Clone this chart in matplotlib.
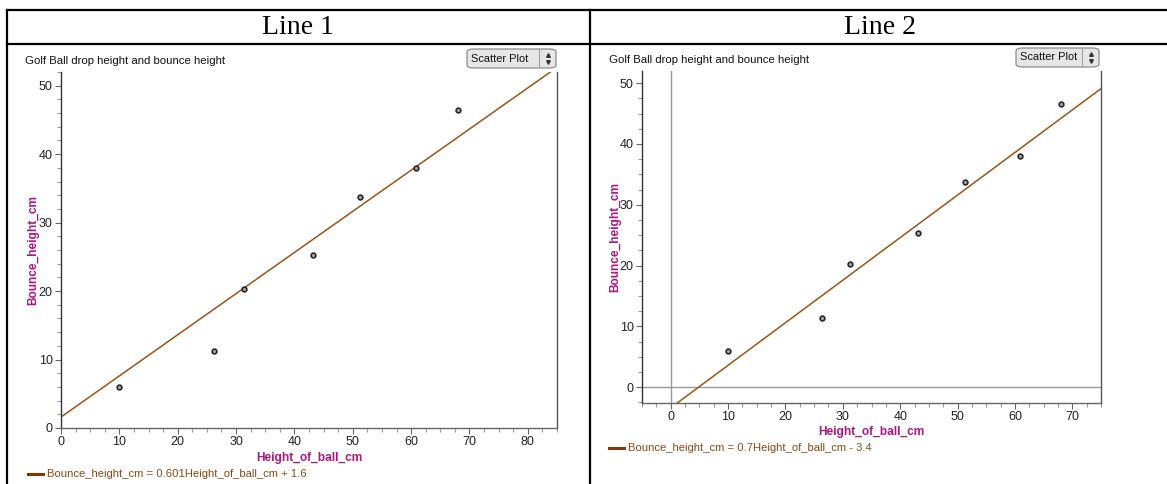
import numpy as np
import matplotlib
matplotlib.use("Agg")
import matplotlib.pyplot as plt
from matplotlib.patches import FancyBboxPatch
from matplotlib.lines import Line2D
from matplotlib.ticker import MultipleLocator

# dati
height_of_ball = [10.0, 26.3, 31.3, 43.1, 51.3, 60.9, 68.0]
bounce_height = [6.0, 11.3, 20.3, 25.3, 33.7, 38.0, 46.5]

headers = ["Line 1", "Line 2"]
slopes = [0.601, 0.7]
intercepts = [1.6, -3.4]
legend_texts = ["Bounce_height_cm = 0.601Height_of_ball_cm + 1.6",
                "Bounce_height_cm = 0.7Height_of_ball_cm - 3.4"]
title_text = "Golf Ball drop height and bounce height"
xlabel_text = "Height_of_ball_cm"
ylabel_text = "Bounce_height_cm"

W, H = 1167, 484
plt.rcParams['font.family'] = ['Liberation Sans', 'DejaVu Sans']

fig = plt.figure(figsize=(W / 100, H / 100), dpi=100)

def fx(px):
    return px / W

def fy(py):
    return 1 - py / H

def add_ax(x0, y0, x1, y1):
    return fig.add_axes([fx(x0), fy(y1), fx(x1 - x0), (y1 - y0) / H])

label_col = '#B0167E'
line_col = '#9A5518'
legend_col = '#8B4A14'

# cornice della tabella
border_kw = dict(color='black', lw=1.6, transform=fig.transFigure)
fig.add_artist(Line2D([fx(7), fx(1167)], [fy(10), fy(10)], **border_kw))
fig.add_artist(Line2D([fx(7), fx(1167)], [fy(44), fy(44)], **border_kw))
fig.add_artist(Line2D([fx(7), fx(7)], [fy(10), fy(484)], **border_kw))
fig.add_artist(Line2D([fx(590), fx(590)], [fy(10), fy(484)], **border_kw))
fig.text(fx(298), fy(28), headers[0], family='Liberation Serif', fontsize=20,
         ha='center', va='center')
fig.text(fx(880), fy(28), headers[1], family='Liberation Serif', fontsize=20,
         ha='center', va='center')

# pannelli: (limiti assi in px, xlim, ylim, passi minori, ecc.)
panels = [
    dict(box=(61, 72, 557, 428), xlim=(0, 85), ylim=(0, 52), yminor=2,
         title=(25, 61), ylab=33, xlab=458, leg=(28, 474), button=(467, 49, 556, 68),
         zero_lines=False),
    dict(box=(642, 71, 1101, 403), xlim=(-5, 75), ylim=(-2.6, 52), yminor=2.5,
         title=(609, 60), ylab=615, xlab=432, leg=(609, 448), button=(1016, 48, 1099, 67),
         zero_lines=True),
]

for i, p in enumerate(panels):
    x0, y0, x1, y1 = p['box']
    ax = add_ax(x0, y0, x1, y1)
    ax.set_xlim(*p['xlim'])
    ax.set_ylim(*p['ylim'])
    ax.patch.set_alpha(0)

    if p['zero_lines']:
        ax.axhline(0, color='#9a9a9a', lw=1, zorder=1)
        ax.axvline(0, color='#9a9a9a', lw=1, zorder=1)

    xs = np.linspace(p['xlim'][0], p['xlim'][1], 200)
    ax.plot(xs, slopes[i] * xs + intercepts[i], color=line_col, lw=1.1, zorder=2)
    ax.scatter(height_of_ball, bounce_height, s=12, facecolor='#a0a0a0',
               edgecolor='#222222', linewidth=1.1, zorder=3)

    ax.spines['top'].set_visible(False)
    ax.spines['left'].set_color('#333333')
    ax.spines['bottom'].set_color('#666666')
    ax.spines['right'].set_color('#555555')
    for s in ax.spines.values():
        s.set_linewidth(1.0)

    ax.xaxis.set_major_locator(MultipleLocator(10))
    ax.xaxis.set_minor_locator(MultipleLocator(2.5))
    ax.yaxis.set_major_locator(MultipleLocator(10))
    ax.yaxis.set_minor_locator(MultipleLocator(p['yminor']))
    ax.tick_params(which='major', length=4, width=0.8, color='#666666',
                   labelsize=9, labelcolor='#222222', pad=2)
    ax.tick_params(which='minor', length=3, width=0.8, color='#999999')

    # titolo, etichette assi
    fig.text(fx(p['title'][0]), fy(p['title'][1]), title_text, fontsize=8.2,
             ha='left', va='center', color='#111111')
    fig.text(fx(p['ylab']), fy((y0 + y1) / 2), ylabel_text, rotation=90,
             fontsize=8.6, fontweight='bold', color=label_col, ha='center', va='center')
    fig.text(fx((x0 + x1) / 2), fy(p['xlab']), xlabel_text, fontsize=8.6,
             fontweight='bold', color=label_col, ha='center', va='center')

    # legenda dell'equazione
    lx, ly = p['leg']
    fig.add_artist(Line2D([fx(lx), fx(lx + 15)], [fy(ly), fy(ly)], color='#7A3A05',
                          lw=2.2, transform=fig.transFigure))
    fig.text(fx(lx + 19), fy(ly), legend_texts[i], fontsize=8.1, color=legend_col,
             ha='left', va='center')

    # pulsante "Scatter Plot"
    bx0, by0, bx1, by1 = p['button']
    btn = FancyBboxPatch((fx(bx0), fy(by1)), fx(bx1 - bx0), (by1 - by0) / H,
                         boxstyle="round,pad=0,rounding_size=0.006",
                         transform=fig.transFigure, facecolor='#e6e6e6',
                         edgecolor='#8c8c8c', lw=0.9)
    fig.add_artist(btn)
    fig.add_artist(Line2D([fx(bx1 - 17), fx(bx1 - 17)], [fy(by0 + 1), fy(by1 - 1)],
                          color='#a0a0a0', lw=0.8, transform=fig.transFigure))
    fig.text(fx(bx0 + 4), fy((by0 + by1) / 2), "Scatter Plot", fontsize=7.9,
             ha='left', va='center', color='#111111')
    cy = (by0 + by1) / 2
    fig.add_artist(Line2D([fx(bx1 - 8.5)], [fy(cy - 3.2)], marker='^', markersize=2.6,
                          color='#333333', linestyle='none', transform=fig.transFigure))
    fig.add_artist(Line2D([fx(bx1 - 8.5)], [fy(cy + 3.2)], marker='v', markersize=2.6,
                          color='#333333', linestyle='none', transform=fig.transFigure))

fig.savefig("out.png", dpi=100)
